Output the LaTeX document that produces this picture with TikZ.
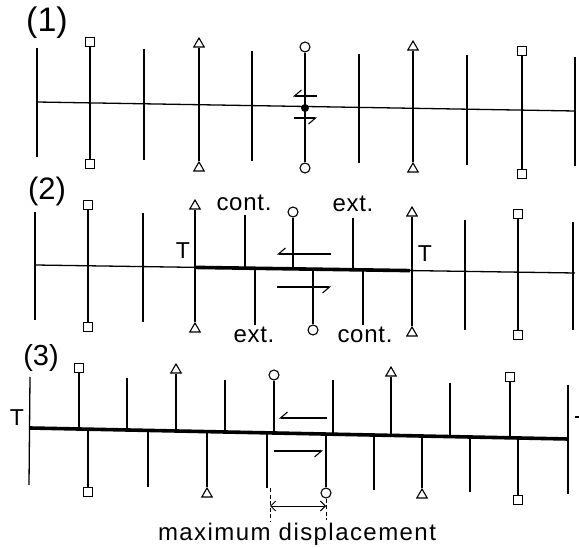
\documentclass[tikz,border=0pt]{standalone}
\usepackage{fontspec}
\setmainfont{Liberation Sans}
\usetikzlibrary{shapes.geometric,arrows.meta}
\begin{document}
\begin{tikzpicture}[x=1pt,y=-1pt,
  ln/.style={line width=1.3pt},
  thk/.style={line width=3.6pt},
  sqm/.style={draw, line width=1.1pt, minimum size=9pt, inner sep=0pt},
  trm/.style={draw, regular polygon, regular polygon sides=3, minimum size=12pt, inner sep=0pt, line width=1.1pt},
  cim/.style={draw, circle, minimum size=10pt, inner sep=0pt, line width=1.1pt},
  lbl/.style={font=\fontsize{24}{24}\selectfont\addfontfeatures{LetterSpace=3}, inner sep=0pt, anchor=base},
  tlbl/.style={font=\fontsize{23}{23}\selectfont, inner sep=0pt, anchor=base},
  plbl/.style={inner sep=0pt},
  harp/.style={line width=1.1pt, -{Straight Barb[right,length=7pt,width=12pt]}},
  dbl/.style={line width=1pt, {Straight Barb[length=5pt,width=10pt]}-{Straight Barb[length=5pt,width=10pt]}},
  dsh/.style={line width=1pt, dashed, dash pattern=on 4pt off 2.5pt}]
\useasboundingbox (0,0) rectangle (579,548);

% ---------------- Panel (1) ----------------
\node[plbl, font=\fontsize{34}{34}\selectfont] (p1) at (47,23) {(1)};
\coordinate (h1a) at (37,102);
\coordinate (h1b) at (575,111);
\draw[ln] (h1a) -- (h1b);
\foreach \x/\ya/\yb in {37/48/157, 144/49/160, 252/51/161, 359/54/163, 467/55/165, 575/57/166}
  \draw[ln] (\x,\ya) -- (\x,\yb);
\node[sqm] (a1t) at (90,42) {};
\node[sqm] (a1b) at (90,164) {};
\draw[ln] (a1t) -- (a1b);
\node[trm] (a2t) at (199,44) {};
\node[trm] (a2b) at (199,168) {};
\draw[ln] (a2t) -- (a2b);
\node[cim] (a3t) at (305,47) {};
\node[cim] (a3b) at (305,168) {};
\draw[ln] (a3t) -- (a3b);
\node[trm] (a4t) at (413,47) {};
\node[trm] (a4b) at (413,169) {};
\draw[ln] (a4t) -- (a4b);
\node[sqm] (a5t) at (522,51) {};
\node[sqm] (a5b) at (522,174) {};
\draw[ln] (a5t) -- (a5b);
\node[circle, fill=black, minimum size=8pt, inner sep=0pt] (dot) at (305,108) {};
\coordinate (u1s) at (317,96);
\coordinate (u1e) at (293,96);
\draw[harp] (u1s) -- (u1e);
\coordinate (l1s) at (294,118);
\coordinate (l1e) at (317,118);
\draw[harp] (l1s) -- (l1e);

% ---------------- Panel (2) ----------------
\node[plbl, font=\fontsize{31}{31}\selectfont] (p2) at (47,191) {(2)};
\coordinate (h2a) at (35,265);
\coordinate (h2b) at (575,273);
\coordinate (T2a) at (195,267.4);
\coordinate (T2b) at (410,270.6);
\draw[ln] (h2a) -- (h2b);
\draw[thk] (T2a) -- (T2b);
\foreach \x/\ya/\yb in {35/212/320, 143/213/322, 465/220/330, 573/222/330}
  \draw[ln] (\x,\ya) -- (\x,\yb);
\node[sqm] (b1t) at (88,205) {};
\node[sqm] (b1b) at (88,327) {};
\draw[ln] (b1t) -- (b1b);
\node[trm] (b2t) at (195,206) {};
\node[trm] (b2b) at (195,329) {};
\draw[ln] (b2t) -- (b2b);
\node[trm] (b3t) at (412,213) {};
\node[trm] (b3b) at (412,333) {};
\draw[ln] (b3t) -- (b3b);
\node[sqm] (b4t) at (518,214) {};
\node[sqm] (b4b) at (518,335) {};
\draw[ln] (b4t) -- (b4b);
% stubs
\draw[ln] (245,215) -- (245,268.1);
\draw[ln] (353,218) -- (353,269.7);
\draw[ln] (255,268.3) -- (255,325);
\draw[ln] (363,269.9) -- (363,325);
\node[cim] (b5t) at (293,212) {};
\draw[ln] (b5t) -- (293,268.8);
\node[cim] (b5b) at (313,330) {};
\draw[ln] (313,269.1) -- (b5b);
\node[lbl] (c2u) at (244,211) {cont.};
\node[lbl] (e2u) at (353,212) {ext.};
\node[lbl] (e2l) at (254,343) {ext.};
\node[lbl] (c2l) at (365,343) {cont.};
\node[tlbl] (t2l) at (183,259) {T};
\node[tlbl] (t2r) at (425,262) {T};
\coordinate (u2s) at (331,254);
\coordinate (u2e) at (277,254);
\draw[harp] (u2s) -- (u2e);
\coordinate (l2s) at (277,287);
\coordinate (l2e) at (331,287);
\draw[harp] (l2s) -- (l2e);

% ---------------- Panel (3) ----------------
\node[plbl, font=\fontsize{29}{29}\selectfont] (p3) at (41,358) {(3)};
\coordinate (h3a) at (30,428);
\coordinate (h3b) at (568,439);
\draw[thk] (h3a) -- (h3b);
\node[tlbl] (t3l) at (17,425) {T};
\draw[ln] (575,417) -- (579,417);
\draw[ln] (30,377) -- (29,485);
\draw[ln] (568,385) -- (568,494);
\foreach \x/\ya/\yb in {127/378/430, 225/380/432, 333/380/434.2, 450/383/436.6,
                        148/430.4/487, 267/432.8/488, 374/435/490, 470/437/492}
  \draw[ln] (\x,\ya) -- (\x,\yb);
\node[sqm] (c1t) at (79,368) {};
\draw[ln] (c1t) -- (79,429);
\node[trm] (c2t) at (176,370) {};
\draw[ln] (c2t) -- (176,431);
\node[cim] (c3t) at (274,375) {};
\draw[ln] (c3t) -- (274,433);
\node[trm] (c4t) at (391,373) {};
\draw[ln] (c4t) -- (391,435.4);
\node[sqm] (c5t) at (510,377) {};
\draw[ln] (c5t) -- (510,437.8);
\node[sqm] (c1b) at (88,492) {};
\draw[ln] (88,429.2) -- (c1b);
\node[trm] (c2b) at (207,494) {};
\draw[ln] (207,431.6) -- (c2b);
\node[cim] (c3b) at (326,493) {};
\draw[ln] (326,434.1) -- (c3b);
\node[trm] (c4b) at (422,495) {};
\draw[ln] (422,436) -- (c4b);
\node[sqm] (c5b) at (518,500) {};
\draw[ln] (518,438) -- (c5b);
\coordinate (u3s) at (327,418);
\coordinate (u3e) at (279,418);
\draw[harp] (u3s) -- (u3e);
\coordinate (l3s) at (274,451);
\coordinate (l3e) at (323,451);
\draw[harp] (l3s) -- (l3e);
% maximum displacement
\coordinate (d1a) at (270,488);
\coordinate (d1b) at (270,522);
\coordinate (d2b) at (326,520);
\draw[dsh] (d1a) -- (d1b);
\draw[dsh] (c3b.south) -- (d2b);
\coordinate (m1) at (270,506);
\coordinate (m2) at (326,506);
\draw[dbl] (m1) -- (m2);
\node[lbl, font=\fontsize{24}{24}\selectfont\addfontfeatures{LetterSpace=6}] (mx) at (297,540) {maximum displacement};
\end{tikzpicture}
\end{document}
